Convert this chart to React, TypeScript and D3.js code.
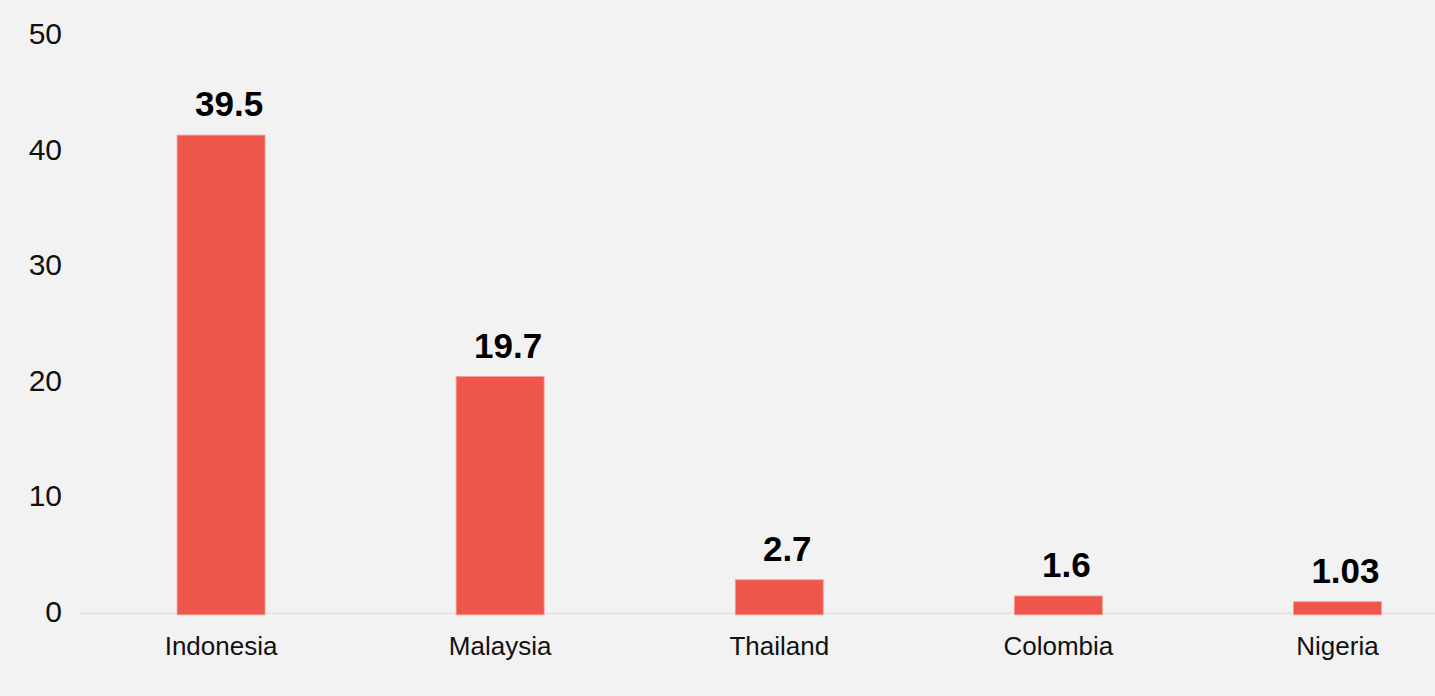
import React from "react";
import * as d3 from "d3";

const categories = ["Indonesia", "Malaysia", "Thailand", "Colombia", "Nigeria"];
const barValues = [41.4, 20.5, 2.9, 1.5, 1.0];
const valueLabels = ["39.5", "19.7", "2.7", "1.6", "1.03"];
const yTicks = [0, 10, 20, 30, 40, 50];

const W = 1435;
const H = 696;
const FONT = "'Liberation Sans', Arial, Helvetica, sans-serif";

export default function App() {
  const y = d3.scaleLinear().domain([0, 50]).range([613.3, 35.8]);
  const x = d3
    .scaleBand<string>()
    .domain(categories)
    .range([81.5, 1477])
    .paddingInner(0.685)
    .paddingOuter(0.3425);
  const bw = x.bandwidth();

  return (
    <svg
      width={W}
      height={H}
      style={{ position: "absolute", left: 0, top: 0, display: "block", background: "#F2F2F2" }}
    >
      <rect x={0} y={0} width={W} height={H} fill="#F2F2F2" />
      <line x1={80} x2={W} y1={y(0)} y2={y(0)} stroke="#DADADA" strokeWidth={1} />
      {yTicks.map((t) => (
        <text
          key={t}
          x={62}
          y={y(t) - 2}
          textAnchor="end"
          dominantBaseline="central"
          fontFamily={FONT}
          fontSize={30}
          fill="#111"
        >
          {t}
        </text>
      ))}
      {categories.map((c, i) => {
        const x0 = x(c)!;
        const top = y(barValues[i]);
        return (
          <g key={c}>
            <rect
              x={x0}
              y={top}
              width={bw}
              height={y(0) + 1.5 - top}
              fill="#EF564B"
              stroke="#F59A92"
              strokeWidth={0.8}
            />
            <text
              x={x0 + bw / 2 + 8}
              y={top - 19}
              textAnchor="middle"
              fontFamily={FONT}
              fontWeight="bold"
              fontSize={35}
              fill="#000"
            >
              {valueLabels[i]}
            </text>
            <text
              x={x0 + bw / 2}
              y={655}
              textAnchor="middle"
              fontFamily={FONT}
              fontSize={26}
              fill="#111"
            >
              {c}
            </text>
          </g>
        );
      })}
    </svg>
  );
}
